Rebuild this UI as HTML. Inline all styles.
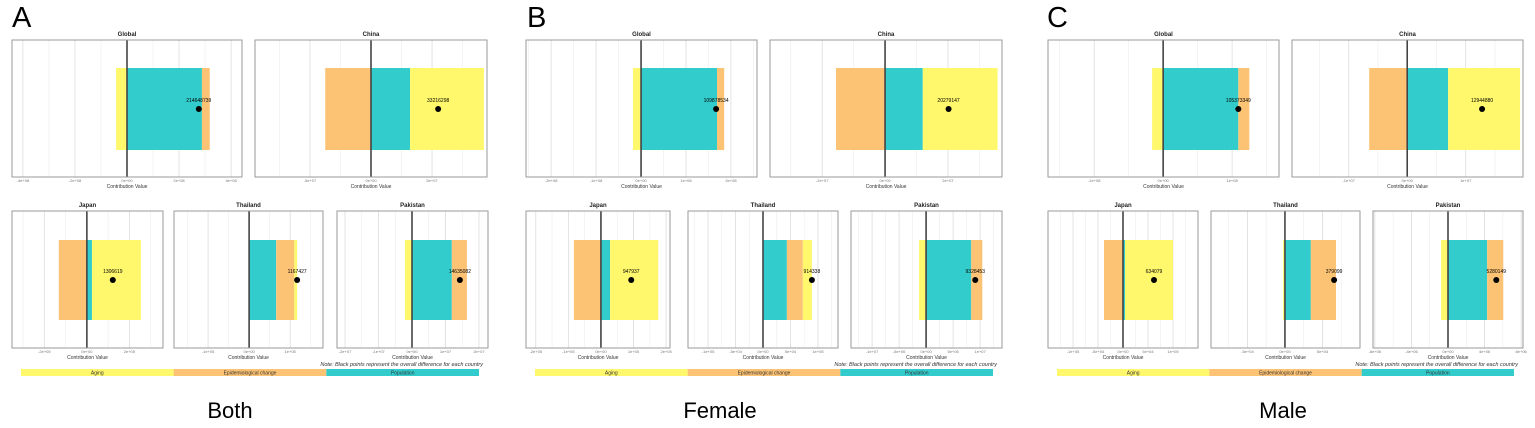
<!DOCTYPE html>
<html><head><meta charset="utf-8">
<style>
html,body{margin:0;padding:0;background:#fff;}
svg{display:block;font-family:"Liberation Sans",sans-serif;}
</style></head>
<body>
<svg id="fig" width="1535" height="428" viewBox="0 0 1535 428" xmlns="http://www.w3.org/2000/svg"></svg>
<script>
// ---- data (per subplot) ----
const panelLetters = ["A","B","C"];
const panelCaptions = ["Both","Female","Male"];
const countries = ["Global","China","Japan","Thailand","Pakistan"];
const agingValues = [
  [-4.2e7, 6.05e7, 2.3e5, 7e3, -2.1e6],
  [-1.8e7, 2.38e7, 1.48e5, 1.65e4, -1.3e6],
  [-1.6e7, 1.23e7, 9.6e4, -2.5e3, -7.6e5]
];
const epiValues = [
  [3.0e7, -3.75e7, -1.32e5, 4.4e4, 4.5e6],
  [1.6e7, -1.56e7, -8.3e4, 2.9e4, 2.05e6],
  [1.6e7, -6.5e6, -3.8e4, 3.35e4, 1.76e6]
];
const popValues = [
  [2.88e8, 3.2e7, 2.4e4, 6.6e4, 1.19e7],
  [1.69e8, 1.2e7, 2.8e4, 4.35e4, 8.35e6],
  [1.09e8, 7e6, 4e3, 3.45e4, 4.28e6]
];
const totalLabels = [
  ["214648739","33216298","1306619","1167427","14635082"],
  ["109878534","20279147","947937","914338","9328453"],
  ["105373349","12944880","634079","379099","5280149"]
];
const domains = [
  [[-4.42e8,4.42e8],[-9.5e7,9.5e7],[-3.52e5,3.58e5],[-1.83e5,1.8e5],[-2.24e7,2.27e7]],
  [[-2.56e8,2.58e8],[-3.66e7,3.72e7],[-2.3e5,2.12e5],[-1.365e5,1.365e5],[-1.39e7,1.405e7]],
  [[-1.67e8,1.68e8],[-1.97e7,1.98e7],[-1.5e5,1.5e5],[-9.85e4,1e5],[-8.2e6,8.2e6]]
];
const tickValues = [
  [[-4e8,-2e8,0,2e8,4e8],[-5e7,0,5e7],[-2e5,0,2e5],[-1e5,0,1e5],[-2e7,-1e7,0,1e7,2e7]],
  [[-2e8,-1e8,0,1e8,2e8],[-2e7,0,2e7],[-2e5,-1e5,0,1e5,2e5],[-1e5,-5e4,0,5e4,1e5],[-1e7,-5e6,0,5e6,1e7]],
  [[-1e8,0,1e8],[-1e7,0,1e7],[-1e5,-5e4,0,5e4,1e5],[-5e4,0,5e4],[-8e6,-4e6,0,4e6,8e6]]
];
const legendLabels = ["Aging","Epidemiological change","Population"];

// ---- layout ----
const colors = {aging:"#fff86c", epi:"#fdc374", pop:"#33cccc"};
const panelX = [0, 515, 1035];
const captionX = [230, 720, 1283];
const boxesByPanel = [
  [[12,242],[255,487],[12,163],[174,323],[337,488]],
  [[526,757],[770,1002],[526,670],[688,838],[851,1002]],
  [[1048,1279],[1292,1523],[1048,1198],[1211,1360],[1373,1523]]
];
const rowY = [{top:40,bot:177,b0:68,b1:150},{top:211,bot:348,b0:240,b1:320}];
const svg = document.getElementById('fig');
const NS = "http://www.w3.org/2000/svg";
function mk(tag, attrs, parent){
  const e = document.createElementNS(NS, tag);
  for (const k in attrs) e.setAttribute(k, attrs[k]);
  (parent||svg).appendChild(e); return e;
}
function fmt(v){
  if (v===0) return "0e+00";
  return v.toExponential(0).replace(/e([+-])(\d)$/, "e$10$2");
}

for (let p=0;p<3;p++){
  const ox = panelX[p];
  const g = mk('g', {});
  
  
  const L = mk('text', {x:ox+12, y:27, 'font-size':29, fill:'#000'}, g);
  L.textContent = panelLetters[p];
  
  
  const cap = mk('text', {x:captionX[p], y:418, 'font-size':22, 'text-anchor':'middle', fill:'#000'}, g);
  cap.textContent = panelCaptions[p];
  
  

  for (let c=0;c<5;c++){
    const row = c<2 ? rowY[0] : rowY[1];
    const bx0 = boxesByPanel[p][c][0], bx1 = boxesByPanel[p][c][1];
    const [d0,d1] = domains[p][c];
    const X = v => bx0 + (v-d0)/(d1-d0)*(bx1-bx0);
    const sg = mk('g', {}, g);
    
    
    const ticks = tickValues[p][c];
    const step = ticks[1]-ticks[0];
    for (let v=ticks[0]-step*2; v<=ticks[ticks.length-1]+step*2+1e-9; v+=step/2){
      const xx = X(v); if (xx<=bx0||xx>=bx1) continue;
      const major = ticks.some(t=>Math.abs(t-v)<step*1e-6);
      const gl = mk('line', {x1:xx,x2:xx,y1:row.top,y2:row.bot,stroke:major?'#dcdcdc':'#ececec','stroke-width':major?0.8:0.6}, sg);
      
      
    }
    const segs = [['pop',popValues[p][c]],['epi',epiValues[p][c]],['aging',agingValues[p][c]]];
    let pos=0, neg=0;
    for (const [k,v] of segs){
      let a,b;
      if (v>=0){a=pos;b=pos+v;pos=b;} else {a=neg+v;b=neg;neg=a;}
      const r = mk('rect', {x:X(a), y:row.b0, width:Math.max(0,X(b)-X(a)), height:row.b1-row.b0, fill:colors[k]}, sg);
      
      
    }
    const z = mk('line', {x1:X(0),x2:X(0),y1:row.top,y2:row.bot,stroke:'#444','stroke-width':1.6}, sg);
    
    
    const fr = mk('rect', {x:bx0,y:row.top,width:bx1-bx0,height:row.bot-row.top,fill:'none',stroke:'#9a9a9a','stroke-width':1}, sg);
    
    
    const total = popValues[p][c]+epiValues[p][c]+agingValues[p][c];
    const py = (row.b0+row.b1)/2;
    const dot = mk('circle', {cx:X(total), cy:py, r:3, fill:'#000'}, sg);
    
    
    const tl = mk('text', {x:X(total), y:py-7, 'font-size':5, 'text-anchor':'middle', fill:'#000'}, sg);
    tl.textContent = totalLabels[p][c];
    
    
    const t = mk('text', {x:(bx0+bx1)/2, y:row.top-4, 'font-size':6, 'font-weight':'bold', 'text-anchor':'middle', fill:'#222'}, sg);
    t.textContent = countries[c];
    
    
    for (const v of ticks){
      const tk = mk('text', {x:X(v), y:row.bot+5, 'font-size':4, 'text-anchor':'middle', fill:'#777'}, sg);
      tk.textContent = fmt(v);
      
      
    }
    const at = mk('text', {x:(bx0+bx1)/2, y:row.bot+11, 'font-size':5, 'text-anchor':'middle', fill:'#333'}, sg);
    at.textContent = "Contribution Value";
    
    
  }
  const right = boxesByPanel[p][4][1];
  const left = boxesByPanel[p][2][0];
  const note = mk('text', {x:right-5, y:366, 'font-size':5.5, 'font-style':'italic', 'text-anchor':'end', fill:'#333'}, g);
  note.textContent = "Note: Black points represent the overall difference for each country";
  
  
  const lx0 = left+9, lx1 = right-9, lw=(lx1-lx0)/3;
  const lk = ['aging','epi','pop'];
  for (let i=0;i<3;i++){
    const lr = mk('rect', {x:lx0+i*lw, y:369, width:lw, height:7, fill:colors[lk[i]]}, g);
    
    
    const lt = mk('text', {x:lx0+i*lw+lw/2, y:374.5, 'font-size':5, 'text-anchor':'middle', fill:'#333'}, g);
    lt.textContent = legendLabels[i];
    
    
  }
}
</script>
</body></html>
